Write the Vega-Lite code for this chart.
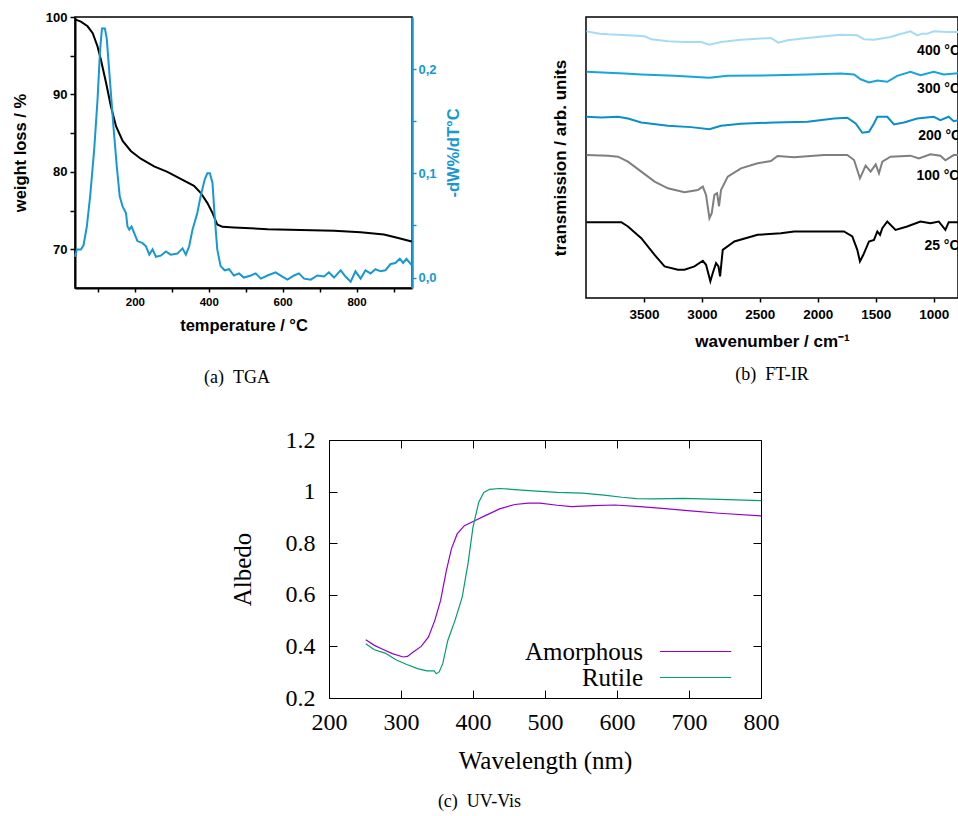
{
  "$schema": "https://vega.github.io/schema/vega-lite/v6.json",
  "background": "white",
  "padding": {"left": 11, "top": 10, "right": 0, "bottom": 0},
  "spacing": 39,
  "resolve": {"scale": {"color": "independent"}, "legend": {"color": "independent"}},
  "config": {
    "view": {"stroke": "black", "strokeWidth": 1.5},
    "axis": {"grid": false, "labelOverlap": false, "labelFlush": false, "tickColor": "black", "domainColor": "black", "labelColor": "black", "titleColor": "black", "labelFont": "Liberation Sans", "titleFont": "Liberation Sans", "labelFontWeight": "bold", "titleFontWeight": "bold"},
    "title": {"font": "Liberation Serif", "fontWeight": "normal", "fontSize": 18, "color": "black", "orient": "bottom", "anchor": "middle", "baseline": "top"}
  },
  "datasets": {
    "tga_w": [
      {"T": 38, "w": 99.7}, {"T": 54, "w": 99.4}, {"T": 72, "w": 98.8}, {"T": 86, "w": 97.9}, {"T": 99, "w": 96.2}, {"T": 108, "w": 94.5}, {"T": 122, "w": 91.5}, {"T": 135, "w": 88.5}, {"T": 149, "w": 85.9}, {"T": 167, "w": 84.0}, {"T": 189, "w": 82.7}, {"T": 216, "w": 81.7}, {"T": 252, "w": 80.7}, {"T": 288, "w": 80.0}, {"T": 324, "w": 79.1}, {"T": 360, "w": 78.2}, {"T": 378, "w": 77.3}, {"T": 396, "w": 76.0}, {"T": 410, "w": 74.7}, {"T": 423, "w": 73.2}, {"T": 437, "w": 72.9}, {"T": 468, "w": 72.8}, {"T": 559, "w": 72.6}, {"T": 649, "w": 72.5}, {"T": 739, "w": 72.4}, {"T": 811, "w": 72.2}, {"T": 874, "w": 71.9}, {"T": 910, "w": 71.5}, {"T": 949, "w": 71.0}
    ],
    "tga_d": [
      {"T": 38, "d": 0.020}, {"T": 43, "d": 0.027}, {"T": 54, "d": 0.027}, {"T": 61, "d": 0.031}, {"T": 70, "d": 0.049}, {"T": 79, "d": 0.078}, {"T": 90, "d": 0.123}, {"T": 99, "d": 0.171}, {"T": 106, "d": 0.219}, {"T": 111, "d": 0.239}, {"T": 119, "d": 0.239}, {"T": 124, "d": 0.229}, {"T": 133, "d": 0.187}, {"T": 142, "d": 0.145}, {"T": 151, "d": 0.107}, {"T": 159, "d": 0.078}, {"T": 167, "d": 0.068}, {"T": 176, "d": 0.062}, {"T": 180, "d": 0.049}, {"T": 185, "d": 0.046}, {"T": 191, "d": 0.049}, {"T": 198, "d": 0.043}, {"T": 207, "d": 0.035}, {"T": 221, "d": 0.033}, {"T": 230, "d": 0.030}, {"T": 239, "d": 0.022}, {"T": 248, "d": 0.027}, {"T": 257, "d": 0.020}, {"T": 270, "d": 0.021}, {"T": 284, "d": 0.025}, {"T": 297, "d": 0.022}, {"T": 315, "d": 0.023}, {"T": 329, "d": 0.028}, {"T": 338, "d": 0.022}, {"T": 347, "d": 0.030}, {"T": 356, "d": 0.046}, {"T": 369, "d": 0.062}, {"T": 378, "d": 0.078}, {"T": 389, "d": 0.094}, {"T": 396, "d": 0.100}, {"T": 403, "d": 0.100}, {"T": 410, "d": 0.091}, {"T": 416, "d": 0.059}, {"T": 423, "d": 0.027}, {"T": 432, "d": 0.011}, {"T": 443, "d": 0.007}, {"T": 455, "d": 0.008}, {"T": 468, "d": 0.002}, {"T": 482, "d": 0.004}, {"T": 495, "d": 0.000}, {"T": 514, "d": 0.002}, {"T": 527, "d": 0.004}, {"T": 541, "d": -0.001}, {"T": 559, "d": 0.002}, {"T": 581, "d": 0.005}, {"T": 599, "d": 0.001}, {"T": 613, "d": -0.002}, {"T": 631, "d": 0.002}, {"T": 644, "d": 0.004}, {"T": 658, "d": -0.001}, {"T": 676, "d": -0.002}, {"T": 694, "d": 0.002}, {"T": 712, "d": 0.001}, {"T": 725, "d": 0.005}, {"T": 739, "d": 0.000}, {"T": 757, "d": 0.007}, {"T": 770, "d": 0.001}, {"T": 784, "d": -0.004}, {"T": 797, "d": 0.006}, {"T": 811, "d": -0.001}, {"T": 824, "d": 0.007}, {"T": 838, "d": 0.004}, {"T": 851, "d": 0.008}, {"T": 865, "d": 0.006}, {"T": 878, "d": 0.007}, {"T": 892, "d": 0.013}, {"T": 905, "d": 0.014}, {"T": 917, "d": 0.018}, {"T": 926, "d": 0.014}, {"T": 935, "d": 0.018}, {"T": 949, "d": 0.012}
    ],
    "ftir": [
      {"s": "400 °C", "wn": 3996, "t": 267.3}, {"s": "400 °C", "wn": 3881, "t": 265}, {"s": "400 °C", "wn": 3810, "t": 264.3}, {"s": "400 °C", "wn": 3638, "t": 263.3}, {"s": "400 °C", "wn": 3494, "t": 262.3}, {"s": "400 °C", "wn": 3437, "t": 259.3}, {"s": "400 °C", "wn": 3293, "t": 257.3}, {"s": "400 °C", "wn": 3150, "t": 256.7}, {"s": "400 °C", "wn": 3007, "t": 256.7}, {"s": "400 °C", "wn": 2935, "t": 254}, {"s": "400 °C", "wn": 2835, "t": 256.7}, {"s": "400 °C", "wn": 2663, "t": 259}, {"s": "400 °C", "wn": 2519, "t": 260}, {"s": "400 °C", "wn": 2404, "t": 260.7}, {"s": "400 °C", "wn": 2341, "t": 256}, {"s": "400 °C", "wn": 2261, "t": 258.3}, {"s": "400 °C", "wn": 2089, "t": 260.7}, {"s": "400 °C", "wn": 1917, "t": 262.7}, {"s": "400 °C", "wn": 1802, "t": 264}, {"s": "400 °C", "wn": 1659, "t": 263.3}, {"s": "400 °C", "wn": 1601, "t": 259.3}, {"s": "400 °C", "wn": 1515, "t": 259}, {"s": "400 °C", "wn": 1372, "t": 261.7}, {"s": "400 °C", "wn": 1286, "t": 264.7}, {"s": "400 °C", "wn": 1200, "t": 267.3}, {"s": "400 °C", "wn": 1142, "t": 263.3}, {"s": "400 °C", "wn": 1099, "t": 265}, {"s": "400 °C", "wn": 1056, "t": 265}, {"s": "400 °C", "wn": 999, "t": 267.3}, {"s": "400 °C", "wn": 884, "t": 266.7}, {"s": "400 °C", "wn": 787, "t": 266.7},
      {"s": "300 °C", "wn": 3996, "t": 226.7}, {"s": "300 °C", "wn": 3810, "t": 225.7}, {"s": "300 °C", "wn": 3666, "t": 225}, {"s": "300 °C", "wn": 3523, "t": 224}, {"s": "300 °C", "wn": 3236, "t": 222.7}, {"s": "300 °C", "wn": 2935, "t": 220.7}, {"s": "300 °C", "wn": 2777, "t": 222.7}, {"s": "300 °C", "wn": 2376, "t": 223.3}, {"s": "300 °C", "wn": 2089, "t": 224}, {"s": "300 °C", "wn": 1802, "t": 225}, {"s": "300 °C", "wn": 1687, "t": 224}, {"s": "300 °C", "wn": 1630, "t": 219.3}, {"s": "300 °C", "wn": 1558, "t": 216}, {"s": "300 °C", "wn": 1486, "t": 218}, {"s": "300 °C", "wn": 1400, "t": 216.7}, {"s": "300 °C", "wn": 1315, "t": 222.7}, {"s": "300 °C", "wn": 1200, "t": 226.7}, {"s": "300 °C", "wn": 1114, "t": 223.3}, {"s": "300 °C", "wn": 999, "t": 226.7}, {"s": "300 °C", "wn": 913, "t": 224}, {"s": "300 °C", "wn": 787, "t": 225.3},
      {"s": "200 °C", "wn": 3996, "t": 181.7}, {"s": "200 °C", "wn": 3867, "t": 181}, {"s": "200 °C", "wn": 3724, "t": 181.7}, {"s": "200 °C", "wn": 3638, "t": 180}, {"s": "200 °C", "wn": 3523, "t": 176}, {"s": "200 °C", "wn": 3293, "t": 172.7}, {"s": "200 °C", "wn": 3093, "t": 171.3}, {"s": "200 °C", "wn": 2935, "t": 169.3}, {"s": "200 °C", "wn": 2835, "t": 172.7}, {"s": "200 °C", "wn": 2663, "t": 174.7}, {"s": "200 °C", "wn": 2376, "t": 176}, {"s": "200 °C", "wn": 2089, "t": 176.7}, {"s": "200 °C", "wn": 1860, "t": 180}, {"s": "200 °C", "wn": 1745, "t": 180.7}, {"s": "200 °C", "wn": 1673, "t": 175}, {"s": "200 °C", "wn": 1616, "t": 165.7}, {"s": "200 °C", "wn": 1558, "t": 166.7}, {"s": "200 °C", "wn": 1515, "t": 175}, {"s": "200 °C", "wn": 1486, "t": 181.7}, {"s": "200 °C", "wn": 1400, "t": 181.7}, {"s": "200 °C", "wn": 1343, "t": 174}, {"s": "200 °C", "wn": 1257, "t": 176}, {"s": "200 °C", "wn": 1142, "t": 180}, {"s": "200 °C", "wn": 999, "t": 181.7}, {"s": "200 °C", "wn": 942, "t": 178.3}, {"s": "200 °C", "wn": 870, "t": 181.7}, {"s": "200 °C", "wn": 827, "t": 177.3}, {"s": "200 °C", "wn": 787, "t": 178.3},
      {"s": "100 °C", "wn": 3996, "t": 143.3}, {"s": "100 °C", "wn": 3810, "t": 142.7}, {"s": "100 °C", "wn": 3724, "t": 141.7}, {"s": "100 °C", "wn": 3638, "t": 136.7}, {"s": "100 °C", "wn": 3523, "t": 126.7}, {"s": "100 °C", "wn": 3408, "t": 116.7}, {"s": "100 °C", "wn": 3293, "t": 110}, {"s": "100 °C", "wn": 3150, "t": 106}, {"s": "100 °C", "wn": 3035, "t": 108.3}, {"s": "100 °C", "wn": 2992, "t": 111.7}, {"s": "100 °C", "wn": 2964, "t": 103.3}, {"s": "100 °C", "wn": 2935, "t": 80}, {"s": "100 °C", "wn": 2915, "t": 85}, {"s": "100 °C", "wn": 2892, "t": 103.3}, {"s": "100 °C", "wn": 2869, "t": 105}, {"s": "100 °C", "wn": 2852, "t": 92}, {"s": "100 °C", "wn": 2835, "t": 108.3}, {"s": "100 °C", "wn": 2777, "t": 121.7}, {"s": "100 °C", "wn": 2663, "t": 130}, {"s": "100 °C", "wn": 2519, "t": 135}, {"s": "100 °C", "wn": 2404, "t": 137.3}, {"s": "100 °C", "wn": 2347, "t": 142.3}, {"s": "100 °C", "wn": 2204, "t": 141}, {"s": "100 °C", "wn": 1946, "t": 143.3}, {"s": "100 °C", "wn": 1745, "t": 143.3}, {"s": "100 °C", "wn": 1687, "t": 138.3}, {"s": "100 °C", "wn": 1636, "t": 120}, {"s": "100 °C", "wn": 1587, "t": 132.7}, {"s": "100 °C", "wn": 1544, "t": 126.7}, {"s": "100 °C", "wn": 1500, "t": 134}, {"s": "100 °C", "wn": 1472, "t": 125}, {"s": "100 °C", "wn": 1443, "t": 136.7}, {"s": "100 °C", "wn": 1372, "t": 141.7}, {"s": "100 °C", "wn": 1200, "t": 142.7}, {"s": "100 °C", "wn": 1128, "t": 140}, {"s": "100 °C", "wn": 1028, "t": 144}, {"s": "100 °C", "wn": 942, "t": 142.7}, {"s": "100 °C", "wn": 899, "t": 138}, {"s": "100 °C", "wn": 827, "t": 143.3}, {"s": "100 °C", "wn": 787, "t": 143.3},
      {"s": "25 °C", "wn": 3996, "t": 76}, {"s": "25 °C", "wn": 3810, "t": 76}, {"s": "25 °C", "wn": 3695, "t": 76}, {"s": "25 °C", "wn": 3638, "t": 71.7}, {"s": "25 °C", "wn": 3523, "t": 60}, {"s": "25 °C", "wn": 3408, "t": 43.3}, {"s": "25 °C", "wn": 3322, "t": 31.7}, {"s": "25 °C", "wn": 3207, "t": 28.3}, {"s": "25 °C", "wn": 3150, "t": 28.3}, {"s": "25 °C", "wn": 3064, "t": 31.7}, {"s": "25 °C", "wn": 2992, "t": 37.3}, {"s": "25 °C", "wn": 2964, "t": 33.3}, {"s": "25 °C", "wn": 2927, "t": 16.7}, {"s": "25 °C", "wn": 2906, "t": 25}, {"s": "25 °C", "wn": 2878, "t": 35}, {"s": "25 °C", "wn": 2857, "t": 31.7}, {"s": "25 °C", "wn": 2843, "t": 21.7}, {"s": "25 °C", "wn": 2820, "t": 48.3}, {"s": "25 °C", "wn": 2720, "t": 56.7}, {"s": "25 °C", "wn": 2519, "t": 63.3}, {"s": "25 °C", "wn": 2318, "t": 65}, {"s": "25 °C", "wn": 2204, "t": 66.7}, {"s": "25 °C", "wn": 1946, "t": 66.7}, {"s": "25 °C", "wn": 1774, "t": 66.7}, {"s": "25 °C", "wn": 1702, "t": 61.7}, {"s": "25 °C", "wn": 1659, "t": 48.3}, {"s": "25 °C", "wn": 1636, "t": 36.7}, {"s": "25 °C", "wn": 1607, "t": 43.3}, {"s": "25 °C", "wn": 1558, "t": 56.7}, {"s": "25 °C", "wn": 1515, "t": 58.3}, {"s": "25 °C", "wn": 1486, "t": 66.7}, {"s": "25 °C", "wn": 1463, "t": 63.3}, {"s": "25 °C", "wn": 1443, "t": 70}, {"s": "25 °C", "wn": 1400, "t": 76.7}, {"s": "25 °C", "wn": 1329, "t": 68.3}, {"s": "25 °C", "wn": 1229, "t": 71.7}, {"s": "25 °C", "wn": 1114, "t": 76.7}, {"s": "25 °C", "wn": 1028, "t": 75}, {"s": "25 °C", "wn": 956, "t": 76.7}, {"s": "25 °C", "wn": 899, "t": 68.3}, {"s": "25 °C", "wn": 870, "t": 76}, {"s": "25 °C", "wn": 787, "t": 76}
    ],
    "ftir_labels": [
      {"label": "400 °C", "wn": 1143, "t": 248}, {"label": "300 °C", "wn": 1143, "t": 209.5}, {"label": "200 °C", "wn": 1134, "t": 162.7}, {"label": "100 °C", "wn": 1149, "t": 122}, {"label": "25 °C", "wn": 1080, "t": 51.7}
    ],
    "uvvis": [
      {"sample": "Amorphous", "wl": 251, "a": 0.426}, {"sample": "Amorphous", "wl": 263, "a": 0.404}, {"sample": "Amorphous", "wl": 273, "a": 0.391}, {"sample": "Amorphous", "wl": 288, "a": 0.372}, {"sample": "Amorphous", "wl": 303, "a": 0.359}, {"sample": "Amorphous", "wl": 309, "a": 0.361}, {"sample": "Amorphous", "wl": 317, "a": 0.378}, {"sample": "Amorphous", "wl": 328, "a": 0.400}, {"sample": "Amorphous", "wl": 338, "a": 0.436}, {"sample": "Amorphous", "wl": 347, "a": 0.501}, {"sample": "Amorphous", "wl": 355, "a": 0.578}, {"sample": "Amorphous", "wl": 363, "a": 0.694}, {"sample": "Amorphous", "wl": 370, "a": 0.778}, {"sample": "Amorphous", "wl": 378, "a": 0.836}, {"sample": "Amorphous", "wl": 388, "a": 0.868}, {"sample": "Amorphous", "wl": 403, "a": 0.888}, {"sample": "Amorphous", "wl": 417, "a": 0.907}, {"sample": "Amorphous", "wl": 437, "a": 0.933}, {"sample": "Amorphous", "wl": 458, "a": 0.950}, {"sample": "Amorphous", "wl": 477, "a": 0.955}, {"sample": "Amorphous", "wl": 493, "a": 0.955}, {"sample": "Amorphous", "wl": 517, "a": 0.947}, {"sample": "Amorphous", "wl": 537, "a": 0.942}, {"sample": "Amorphous", "wl": 567, "a": 0.946}, {"sample": "Amorphous", "wl": 597, "a": 0.948}, {"sample": "Amorphous", "wl": 632, "a": 0.942}, {"sample": "Amorphous", "wl": 667, "a": 0.934}, {"sample": "Amorphous", "wl": 702, "a": 0.925}, {"sample": "Amorphous", "wl": 742, "a": 0.916}, {"sample": "Amorphous", "wl": 800, "a": 0.906},
      {"sample": "Rutile", "wl": 251, "a": 0.410}, {"sample": "Rutile", "wl": 263, "a": 0.387}, {"sample": "Rutile", "wl": 278, "a": 0.374}, {"sample": "Rutile", "wl": 293, "a": 0.348}, {"sample": "Rutile", "wl": 308, "a": 0.330}, {"sample": "Rutile", "wl": 323, "a": 0.314}, {"sample": "Rutile", "wl": 336, "a": 0.305}, {"sample": "Rutile", "wl": 346, "a": 0.305}, {"sample": "Rutile", "wl": 349, "a": 0.294}, {"sample": "Rutile", "wl": 353, "a": 0.301}, {"sample": "Rutile", "wl": 358, "a": 0.333}, {"sample": "Rutile", "wl": 365, "a": 0.423}, {"sample": "Rutile", "wl": 375, "a": 0.501}, {"sample": "Rutile", "wl": 385, "a": 0.591}, {"sample": "Rutile", "wl": 393, "a": 0.720}, {"sample": "Rutile", "wl": 400, "a": 0.862}, {"sample": "Rutile", "wl": 408, "a": 0.959}, {"sample": "Rutile", "wl": 415, "a": 0.997}, {"sample": "Rutile", "wl": 423, "a": 1.009}, {"sample": "Rutile", "wl": 437, "a": 1.012}, {"sample": "Rutile", "wl": 458, "a": 1.008}, {"sample": "Rutile", "wl": 483, "a": 1.003}, {"sample": "Rutile", "wl": 517, "a": 0.997}, {"sample": "Rutile", "wl": 552, "a": 0.994}, {"sample": "Rutile", "wl": 582, "a": 0.986}, {"sample": "Rutile", "wl": 607, "a": 0.978}, {"sample": "Rutile", "wl": 627, "a": 0.973}, {"sample": "Rutile", "wl": 652, "a": 0.972}, {"sample": "Rutile", "wl": 692, "a": 0.974}, {"sample": "Rutile", "wl": 742, "a": 0.970}, {"sample": "Rutile", "wl": 800, "a": 0.965}
    ]
  },
  "vconcat": [
    {
      "hconcat": [
        {
          "width": 337, "height": 271,
          "title": {"text": "(a)\u00a0\u00a0TGA", "frame": "bounds", "offset": 35},
          "layer": [
            {
              "data": {"name": "tga_w"},
              "mark": {"type": "line", "color": "black", "strokeWidth": 2},
              "encoding": {
                "x": {"field": "T", "type": "quantitative", "scale": {"domain": [38, 950], "nice": false, "zero": false},
                  "axis": {"title": "temperature / °C", "values": [100, 200, 300, 400, 500, 600, 700, 800, 900], "labelExpr": "datum.value % 200 === 0 ? datum.label : ''", "tickSize": 4, "tickWidth": 1.5, "labelPadding": 4, "labelFontSize": 11.5, "titleFontSize": 16.5, "titlePadding": 10, "domainWidth": 2}},
                "y": {"field": "w", "type": "quantitative", "scale": {"domain": [65, 100], "nice": false, "zero": false},
                  "axis": {"title": "weight loss / %", "values": [70, 75, 80, 85, 90, 95, 100], "labelExpr": "datum.value % 10 === 0 ? datum.label : ''", "tickSize": 5, "tickWidth": 1.5, "labelPadding": 3, "labelFontSize": 13, "titleFontSize": 16.5, "titlePadding": 17, "domainWidth": 2}}
              }
            },
            {
              "data": {"name": "tga_d"},
              "mark": {"type": "line", "color": "#1798d4", "strokeWidth": 2},
              "encoding": {
                "x": {"field": "T", "type": "quantitative", "scale": {"domain": [38, 950], "nice": false, "zero": false}},
                "y": {"field": "d", "type": "quantitative", "scale": {"domain": [-0.01, 0.25], "nice": false, "zero": false},
                  "axis": {"orient": "right", "title": "-dW%/dT°C", "titleAngle": -90, "titleBaseline": "top", "values": [0, 0.05, 0.1, 0.15, 0.2], "labelExpr": "round(datum.value * 100) % 10 === 0 ? replace(format(datum.value, '.1f'), '.', ',') : ''", "tickSize": 4, "tickWidth": 1.5, "labelPadding": 2, "labelFontSize": 13, "titleFontSize": 16.5, "titlePadding": 9, "domainWidth": 2.5, "domainColor": "#1798d4", "tickColor": "#1798d4", "labelColor": "#1798d4", "titleColor": "#1798d4"}}
              }
            }
          ],
          "resolve": {"scale": {"y": "independent"}}
        },
        {
          "width": 372, "height": 281,
          "title": {"text": "(b)\u00a0\u00a0FT-IR", "frame": "group", "offset": 16},
          "layer": [
            {
              "data": {"name": "ftir"},
              "mark": {"type": "line", "strokeWidth": 2, "clip": true},
              "encoding": {
                "x": {"field": "wn", "type": "quantitative", "scale": {"domain": [790, 4000], "reverse": true, "nice": false, "zero": false},
                  "axis": {"title": "wavenumber / cm⁻¹", "values": [1000, 1250, 1500, 1750, 2000, 2250, 2500, 2750, 3000, 3250, 3500, 3750], "format": "d", "labelExpr": "datum.value % 500 === 0 ? datum.label : ''", "tickSize": 4, "tickWidth": 1.5, "labelPadding": 5, "labelFontSize": 13.5, "titleFontSize": 17, "titlePadding": 13, "domain": false}},
                "y": {"field": "t", "type": "quantitative", "scale": {"domain": [0, 281.7], "nice": false, "zero": false},
                  "axis": {"title": "transmission / arb. units", "ticks": false, "labels": false, "domain": false, "titleFontSize": 17, "titlePadding": 17}},
                "color": {"field": "s", "type": "nominal", "scale": {"domain": ["400 °C", "300 °C", "200 °C", "100 °C", "25 °C"], "range": ["#a6dcf3", "#16a4dd", "#0a8fca", "#7f7f7f", "#000000"]}, "legend": null}
              }
            },
            {
              "data": {"name": "ftir_labels"},
              "mark": {"type": "text", "align": "left", "baseline": "middle", "font": "Liberation Sans", "fontWeight": "bold", "fontSize": 14, "color": "black", "clip": true},
              "encoding": {
                "x": {"field": "wn", "type": "quantitative"},
                "y": {"field": "t", "type": "quantitative"},
                "text": {"field": "label"}
              }
            }
          ]
        }
      ],
      "spacing": 174,
      "bounds": "flush"
    },
    {
      "hconcat": [
        {
          "width": 200, "height": 10,
          "data": {"values": [{}]},
          "mark": {"type": "point", "opacity": 0},
          "encoding": {},
          "view": {"stroke": null}
        },
        {
          "width": 432, "height": 258,
          "view": {"stroke": "black", "strokeWidth": 1},
          "title": {"text": "(c)\u00a0\u00a0UV-Vis", "frame": "bounds", "offset": 20, "dx": -25},
          "data": {"name": "uvvis"},
          "layer": [
            {
              "mark": {"type": "line", "strokeWidth": 1.2},
              "encoding": {
                "x": {"field": "wl", "type": "quantitative", "scale": {"domain": [200, 800], "nice": false, "zero": false},
                  "axis": {"orient": "bottom", "title": "Wavelength (nm)", "values": [200, 300, 400, 500, 600, 700, 800], "tickSize": -8, "tickWidth": 1, "labelPadding": 20, "labelFont": "Liberation Serif", "labelFontWeight": "normal", "labelFontSize": 24, "titleFont": "Liberation Serif", "titleFontWeight": "normal", "titleFontSize": 25, "titlePadding": 14, "domain": false}},
                "y": {"field": "a", "type": "quantitative", "scale": {"domain": [0.2, 1.2], "nice": false, "zero": false},
                  "axis": {"orient": "left", "title": "Albedo", "values": [0.2, 0.4, 0.6, 0.8, 1.0, 1.2], "labelExpr": "datum.value === 1 ? '1' : format(datum.value, '.1f')", "tickSize": -8, "tickWidth": 1, "labelPadding": 22, "labelFont": "Liberation Serif", "labelFontWeight": "normal", "labelFontSize": 24, "titleFont": "Liberation Serif", "titleFontWeight": "normal", "titleFontSize": 25, "titlePadding": 30, "domain": false}},
                "color": {"field": "sample", "type": "nominal", "scale": {"domain": ["Amorphous", "Rutile"], "range": ["#9400d3", "#009e73"]},
                  "legend": {"orient": "none", "legendX": 608, "legendY": 199, "title": null, "padding": 0, "symbolType": "M-5,0H5", "symbolSize": 202, "symbolStrokeWidth": 1.2, "labelFont": "Liberation Serif", "labelFontSize": 25, "labelColor": "black", "labelAlign": "right", "labelOffset": -65, "labelLimit": 400, "rowPadding": -2}}
              }
            },
            {
              "mark": {"type": "line", "opacity": 0},
              "encoding": {
                "x": {"field": "wl", "type": "quantitative", "axis": {"orient": "top", "title": null, "values": [200, 300, 400, 500, 600, 700, 800], "tickSize": -8, "tickWidth": 1, "labels": false, "domain": false}},
                "y": {"field": "a", "type": "quantitative", "axis": {"orient": "right", "title": null, "values": [0.2, 0.4, 0.6, 0.8, 1.0, 1.2], "tickSize": -8, "tickWidth": 1, "labels": false, "domain": false}},
                "detail": {"field": "sample"}
              }
            }
          ],
          "resolve": {"axis": {"x": "independent", "y": "independent"}}
        }
      ],
      "spacing": 54,
      "bounds": "flush"
    }
  ]
}
